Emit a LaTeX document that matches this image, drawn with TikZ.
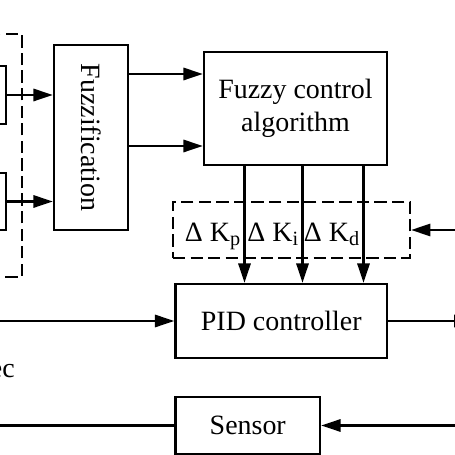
\documentclass[tikz,border=0pt]{standalone}
\usepackage{fontspec}
\setmainfont{Liberation Serif}
\usetikzlibrary{arrows.meta,calc}
\tikzstyle{block}=[rectangle, draw=black, line width=1.4pt, fill=white, inner sep=0pt, anchor=center, align=center, font=\fontsize{15.9}{18.7}\selectfont]
\tikzstyle{dbox}=[rectangle, draw=black, line width=1.3pt, dash pattern=on 7pt off 3pt, inner sep=0pt]
\tikzstyle{txt}=[inner sep=0pt, font=\fontsize{15.9}{18.7}\selectfont]
\tikzstyle{conn}=[line width=1.2pt, -{Triangle[length=11pt,width=7pt]}]
\newcommand{\gainsub}[1]{\raisebox{-2.2pt}{\fontsize{11.5}{12}\selectfont #1}}

\begin{document}
\begin{tikzpicture}
	\useasboundingbox (0,0) rectangle (9.1,9.1);

	% inputs, cut off at the left edge
	\node[dbox, minimum width=2.44cm, minimum height=4.86cm](inbox) at (-0.78,5.99){};
	\node[block, minimum width=1.5cm, minimum height=1.16cm](in1) at (-0.63,7.2){};
	\node[block, minimum width=1.5cm, minimum height=1.14cm](in2) at (-0.63,5.07){};

	\node[block, minimum width=1.48cm, minimum height=3.7cm](fuzz) at (1.82,6.35){};
	\node[txt, rotate=-90](fuzzlbl) at (fuzz.center){Fuzzification};
	\node[block, minimum width=3.66cm, minimum height=2.26cm](fuzzy) at (5.91,6.93){Fuzzy control\\algorithm};
	\node[dbox, minimum width=4.74cm, minimum height=1.12cm](gain) at (5.83,4.5){};
	\node[block, minimum width=4.23cm, minimum height=1.48cm](pid) at (5.625,2.68){PID controller};
	\node[block, minimum width=2.89cm, minimum height=1.14cm](sensor) at (4.955,0.59){Sensor};
	\node[txt, anchor=base east](ec) at (0.3,1.54){ec};

	\coordinate (gin) at (9.1,4.5);
	\coordinate (ein) at (0,2.68);
	\coordinate (uout) at (9.47,2.68);
	\coordinate (yin) at (9.1,0.59);
	\coordinate (yout) at (0,0.59);

	\draw[conn] (in1) -- (fuzz.west |- in1);
	\draw[conn] (in2) -- (fuzz.west |- in2);
	\draw[conn] (fuzz.east |- 0,7.62) -- (fuzzy.west |- 0,7.62);
	\draw[conn] (fuzz.east |- 0,6.18) -- (fuzzy.west |- 0,6.18);

	\foreach \x/\k in {4.89/p,6.05/i,7.27/d}{
		\draw[conn] (fuzzy.south -| \x,0) -- (pid.north -| \x,0);
		\node[txt, anchor=base east](k\k) at (\x-0.08,4.27){Δ K\gainsub{\k}};
	}

	\draw[conn] (gin) -- (gain.east);
	\draw[conn] (ein) -- (pid.west);
	\draw[conn] (pid.east) -- (uout);
	\draw[conn] (yin) -- (sensor.east);
	\draw[line width=1.2pt] (sensor.west) -- (yout);

\end{tikzpicture}
\end{document}
